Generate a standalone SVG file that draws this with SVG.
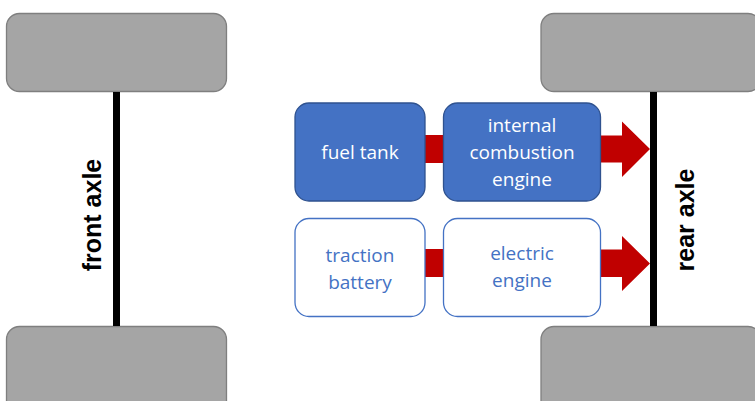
<svg xmlns="http://www.w3.org/2000/svg" width="755" height="401" viewBox="0 0 755 401">
<style>
.wheel{fill:#a5a5a5;stroke:#7f7f7f;stroke-width:1.3}
.axle{fill:#000}
.fb{fill:#4472c4;stroke:#2f528f;stroke-width:1.3}
.eb{fill:#fff;stroke:#4472c4;stroke-width:1.3}
.red{fill:#c00000}
.t{font-family:"Open Sans","Liberation Sans",sans-serif;font-size:19px;text-anchor:middle}
.w{fill:#fff}
.b{fill:#4472c4}
.ax{font-family:"Liberation Sans",Arial,sans-serif;font-size:25px;font-weight:bold;text-anchor:middle;fill:#000}
</style>
<rect width="755" height="401" fill="#fff"/>
<g id="wheel-front-top"><rect class="wheel" x="6.5" y="13.5" width="220" height="78" rx="13"/></g>
<g id="wheel-front-bottom"><rect class="wheel" x="6.5" y="326.5" width="220" height="90" rx="13"/></g>
<g id="wheel-rear-top"><rect class="wheel" x="541" y="13.5" width="220" height="78" rx="13"/></g>
<g id="wheel-rear-bottom"><rect class="wheel" x="541" y="326.5" width="220" height="90" rx="13"/></g>
<g id="front-axle">
<rect class="axle" x="113" y="92" width="7" height="234"/>
<text class="ax" transform="translate(101,215) rotate(-90)">front axle</text>
</g>
<g id="rear-axle">
<rect class="axle" x="650" y="92" width="7" height="234"/>
<text class="ax" transform="translate(694,220) rotate(-90)">rear axle</text>
</g>
<g id="connectors">
<rect class="red" x="424" y="135" width="20" height="28"/>
<polygon class="red" points="601,135.5 622,135.5 622,121.5 650,149 622,177 622,162.5 601,162.5"/>
<rect class="red" x="424" y="249" width="20" height="28"/>
<polygon class="red" points="601,249.5 622,249.5 622,236 650,263.5 622,291 622,277 601,277"/>
</g>
<g id="fuel-tank">
<rect class="fb" x="295" y="103" width="130" height="98" rx="14"/>
<text class="t w" x="360" y="159">fuel tank</text>
</g>
<g id="ice">
<rect class="fb" x="443.5" y="103" width="157" height="98" rx="14"/>
<text class="t w" x="522" y="132">internal</text>
<text class="t w" x="522" y="159">combustion</text>
<text class="t w" x="522" y="186">engine</text>
</g>
<g id="traction-battery">
<rect class="eb" x="295" y="218.5" width="130" height="98" rx="14"/>
<text class="t b" x="360" y="262">traction</text>
<text class="t b" x="360" y="289">battery</text>
</g>
<g id="electric-engine">
<rect class="eb" x="443.5" y="218.5" width="157" height="98" rx="14"/>
<text class="t b" x="522" y="260">electric</text>
<text class="t b" x="522" y="287">engine</text>
</g>
</svg>
